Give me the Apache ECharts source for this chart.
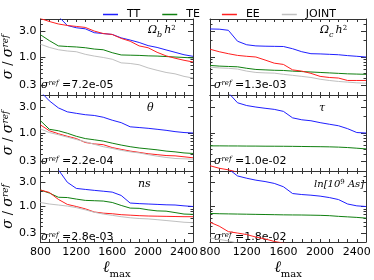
<!DOCTYPE html>
<html><head><meta charset="utf-8">
<script src="https://cdn.jsdelivr.net/npm/echarts@6/dist/echarts.min.js"></script>
<style>html,body{margin:0;padding:0;background:#fff}#c{width:374px;height:280px}</style>
</head><body><div id="c"></div>
<script>
// ---- data ----
const ellMax = [800,900,1000,1100,1200,1300,1400,1500,1600,1700,1800,1900,2000,2100,2200,2300,2400,2500];
const xTickLabels = [800,1200,1600,2000,2400];
const xMinorTicks = [900,1000,1100,1200,1300,1400,1500,1600,1700,1800,1900,2000,2100,2200,2300,2400];
const yTickLabels = [0.3,1,3];
const yMinorTicks = [0.4,0.5,0.6,0.7,0.8,0.9,2,4];
const seriesNames = ['TT','TE','EE','JOINT'];
const sigmaRef = ['7.2e-05','1.3e-03','2.2e-04','1.0e-02','2.8e-03','1.8e-02'];

// Omega_b h^2
const obh2_TT    = [9,7,5.6,3.8,3.45,3.3,2.8,2.7,2.6,2.25,2.05,1.85,1.62,1.5,1.35,1.22,1.1,1.03];
const obh2_TE    = [2.57,2.0,1.6,1.56,1.53,1.48,1.4,1.36,1.2,1.09,1.08,1.07,1.05,1.04,1.02,1.0,0.98,0.96];
const obh2_EE    = [5.1,4.5,4.05,3.8,3.65,3.5,3.0,2.7,2.6,2.2,1.95,1.6,1.48,1.22,1.05,0.95,0.87,0.81];
const obh2_JOINT = [1.72,1.5,1.36,1.29,1.25,1.12,1.04,0.98,0.91,0.78,0.76,0.72,0.63,0.57,0.52,0.49,0.44,0.41];
// Omega_c h^2
const och2_TT    = [3.28,3.25,3.1,1.95,1.68,1.6,1.58,1.57,1.56,1.42,1.25,1.15,1.14,1.12,1.1,1.06,1.03,1.0];
const och2_TE    = [0.70,0.68,0.67,0.66,0.62,0.59,0.58,0.57,0.565,0.55,0.54,0.53,0.52,0.51,0.5,0.49,0.485,0.48];
const och2_EE    = [1.39,1.25,1.15,1.07,1.03,1.0,0.88,0.77,0.73,0.58,0.55,0.5,0.44,0.42,0.41,0.37,0.37,0.37];
const och2_JOINT = [0.65,0.63,0.62,0.6,0.55,0.52,0.51,0.505,0.48,0.46,0.44,0.42,0.39,0.37,0.355,0.345,0.335,0.33];
// theta
const theta_TT    = [5.8,3.9,2.9,2.45,2.3,2.17,2.1,1.95,1.72,1.55,1.3,1.26,1.22,1.17,1.12,1.06,1.02,1.0];
const theta_TE    = [1.69,1.17,1.1,0.99,0.87,0.79,0.75,0.71,0.65,0.6,0.56,0.53,0.51,0.49,0.465,0.45,0.43,0.42];
const theta_EE    = [1.41,1.1,0.97,0.87,0.79,0.67,0.63,0.61,0.54,0.5,0.465,0.44,0.415,0.4,0.385,0.38,0.365,0.35];
const theta_JOINT = [1.19,1.02,0.93,0.84,0.76,0.69,0.62,0.56,0.52,0.48,0.45,0.43,0.4,0.375,0.355,0.34,0.335,0.33];
// tau
const tau_TT    = [12,8,5.5,3.6,3.2,3.0,2.85,2.72,2.5,1.9,1.75,1.68,1.55,1.45,1.36,1.2,1.02,1.0];
const tau_TE    = [0.58,0.58,0.578,0.577,0.575,0.574,0.572,0.571,0.57,0.568,0.565,0.562,0.56,0.556,0.55,0.54,0.525,0.51];
const tau_EE    = [0.25,0.225,0.21,0.19,0.18,0.17,0.165,0.16,0.155,0.15,0.145,0.14,0.135,0.13,0.125,0.12,0.115,0.11];
const tau_JOINT = [0.18,0.17,0.16,0.15,0.14,0.135,0.13,0.125,0.12,0.115,0.11,0.105,0.1,0.095,0.09,0.088,0.085,0.082];
// n_s
const ns_TT    = [12,8,5.3,3.0,2.27,2.17,2.08,2.0,1.92,1.65,1.17,1.14,1.12,1.1,1.08,1.07,1.03,1.0];
const ns_TE    = [2.11,1.84,1.52,1.5,1.4,1.32,1.3,1.28,1.2,1.05,0.93,0.92,0.86,0.82,0.81,0.76,0.71,0.70];
const ns_EE    = [2.11,1.89,1.38,1.1,1.0,0.9,0.78,0.74,0.72,0.69,0.675,0.66,0.65,0.645,0.64,0.635,0.63,0.63];
const ns_JOINT = [1.2,1.12,1.07,1.02,0.95,0.86,0.77,0.71,0.67,0.63,0.6,0.58,0.57,0.55,0.53,0.51,0.49,0.48];
// ln(10^9 As)
const lnAs_TT    = [12,8,5.5,4.0,3.6,3.3,3.1,2.85,2.45,1.8,1.72,1.67,1.6,1.5,1.37,1.12,1.03,1.0];
const lnAs_TE    = [0.73,0.72,0.715,0.71,0.705,0.70,0.695,0.69,0.685,0.682,0.68,0.675,0.67,0.66,0.64,0.625,0.61,0.59];
const lnAs_EE    = [0.49,0.41,0.32,0.3,0.28,0.25,0.23,0.205,0.19,0.18,0.17,0.16,0.15,0.145,0.14,0.135,0.13,0.125];
const lnAs_JOINT = [0.24,0.225,0.21,0.19,0.18,0.17,0.16,0.15,0.14,0.135,0.13,0.125,0.12,0.115,0.11,0.105,0.1,0.095];

// ---- layout/style ----
const panels = [
  {d:[obh2_TT,obh2_TE,obh2_EE,obh2_JOINT], label:'{t|Ω}{s|b}{t|h}{p|2}', lx:148, ly:30},
  {d:[och2_TT,och2_TE,och2_EE,och2_JOINT], label:'{t|Ω}{s|c}{t|h}{p|2}', lx:320, ly:30},
  {d:[theta_TT,theta_TE,theta_EE,theta_JOINT], label:'{t|θ}', lx:147, ly:108},
  {d:[tau_TT,tau_TE,tau_EE,tau_JOINT], label:'{t|τ}', lx:319, ly:108},
  {d:[ns_TT,ns_TE,ns_EE,ns_JOINT], label:'{t|ns}', lx:138, ly:184},
  {d:[lnAs_TT,lnAs_TE,lnAs_EE,lnAs_JOINT], label:'{u|ln[10}{p|9}{u| As]}', lx:314, ly:184}
];
const colors = ['#1f1fff','#108010','#ff1f1f','#c0c0c0'];
const colLeft = [37,210], rowTop = [19,95,171], W = 156, H = 76;
const axisCol = '#333';
const serif = 'DejaVu Serif';
const sans = 'DejaVu Sans';

const grids=[], xAxes=[], yAxes=[], series=[], graphics=[];
panels.forEach((p,g)=>{
  const r = Math.floor(g/2), c = g%2;
  grids.push({left:colLeft[c], top:rowTop[r], width:W, height:H, show:false});
  const bottomRow = r===2;
  const xBase = {type:'value', gridIndex:g, min:800, max:2500,
    splitLine:{show:false}, axisLine:{lineStyle:{color:axisCol,width:1}},
    axisTick:{inside:true, length:3, customValues:xMinorTicks, lineStyle:{color:axisCol}}};
  xAxes.push(Object.assign({}, xBase, {position:'bottom',
    axisLabel:{show:bottomRow, customValues:xTickLabels, formatter:v=>String(v), color:'#000', fontSize:11, fontFamily:sans, margin:5},
    name: bottomRow ? '{l|ℓ}{m|max}' : '', nameLocation:'middle', nameGap:18,
    nameTextStyle:{rich:{l:{fontSize:16,fontFamily:serif,fontStyle:'italic',color:'#000',verticalAlign:'bottom'},
                         m:{fontSize:10,fontFamily:serif,color:'#000',verticalAlign:'bottom',padding:[0,0,-3,0]}}}}));
  xAxes.push(Object.assign({}, xBase, {position:'top', axisLabel:{show:false}}));
  const yBase = {type:'log', logBase:10, gridIndex:g, min:0.2, max:5,
    splitLine:{show:false}, axisLine:{show:true, lineStyle:{color:axisCol,width:1}},
    axisTick:{inside:true, length:5, customValues:yTickLabels, lineStyle:{color:axisCol}}};
  const base = yAxes.length;
  yAxes.push(Object.assign({}, yBase, {position:'left',
    axisLabel:{show:c===0, customValues:yTickLabels, formatter:v=>Number(v).toFixed(1), color:'#000', fontSize:11, fontFamily:sans, margin:4},
    name: c===0 ? '{a|σ}{b| / }{a|σ}{c|ref}' : '', nameLocation:'middle', nameRotate:90, nameGap:22,
    nameTextStyle:{rich:{a:{fontSize:14,fontFamily:serif,fontStyle:'italic',color:'#000',verticalAlign:'bottom'},
                         b:{fontSize:13,fontFamily:serif,color:'#000',verticalAlign:'bottom'},
                         c:{fontSize:9,fontFamily:serif,fontStyle:'italic',color:'#000',verticalAlign:'top'}}}}));
  yAxes.push(Object.assign({}, yBase, {position:'right', axisLabel:{show:false}}));
  ['left','right'].forEach(pos=>{
    yAxes.push({type:'log', logBase:10, gridIndex:g, min:0.2, max:5, position:pos,
      splitLine:{show:false}, axisLine:{show:false}, axisLabel:{show:false},
      axisTick:{inside:true, length:2.5, customValues:yMinorTicks, lineStyle:{color:axisCol}}});
  });
  seriesNames.forEach((nm,k)=>{
    series.push({type:'line', name:nm, xAxisIndex:2*g, yAxisIndex:base, symbol:'none', showSymbol:false,
      clip:true, lineStyle:{color:colors[k], width:1}, itemStyle:{color:colors[k]},
      data: ellMax.map((x,i)=>[x,p.d[k][i]]), z:2+k});
  });
  graphics.push({type:'text', x:p.lx, y:p.ly, style:{text:p.label, align:'left', verticalAlign:'middle',
    rich:{t:{fontSize:11,fontFamily:serif,fontStyle:'italic',fill:'#000',verticalAlign:'bottom'},
          u:{fontSize:10,fontFamily:serif,fontStyle:'italic',fill:'#000',verticalAlign:'bottom'},
          s:{fontSize:8,fontFamily:serif,fontStyle:'italic',fill:'#000',verticalAlign:'bottom',padding:[0,2,-3,0]},
          p:{fontSize:7,fontFamily:serif,fill:'#000',verticalAlign:'top'}}}});
  graphics.push({type:'text', x:colLeft[c]+4, y:rowTop[r]+66, style:{text:'{a|σ}{c|ref}{n| ='+sigmaRef[g]+'}', align:'left', verticalAlign:'middle',
    rich:{a:{fontSize:11,fontFamily:serif,fontStyle:'italic',fill:'#000',verticalAlign:'bottom'},
          c:{fontSize:7,fontFamily:serif,fontStyle:'italic',fill:'#000',verticalAlign:'top'},
          n:{fontSize:11,fontFamily:sans,fill:'#000',verticalAlign:'bottom'}}}});
});

const chart = echarts.init(document.getElementById('c'), null, {renderer:'canvas'});
chart.setOption({
  animation:false,
  backgroundColor:'#fff',
  legend:{data:seriesNames, left:98, top:4, icon:'rect', itemWidth:15, itemHeight:1.5, itemGap:22,
    textStyle:{fontSize:11, fontFamily:sans, color:'#000', padding:[0,0,0,4]}},
  grid:grids, xAxis:xAxes, yAxis:yAxes, series:series, graphic:graphics
});
</script></body></html>
